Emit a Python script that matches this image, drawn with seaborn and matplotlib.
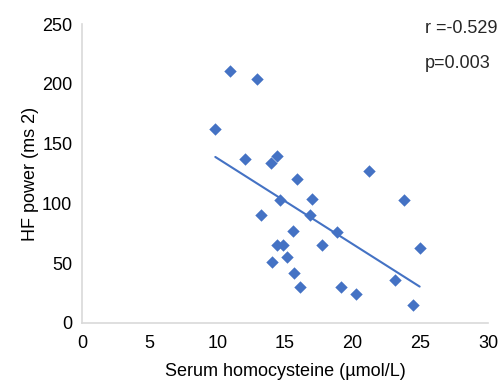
import matplotlib
matplotlib.use("Agg")
import matplotlib.pyplot as plt
import seaborn as sns
import numpy as np
import pandas as pd

homocysteine = [9.85, 10.9, 12.9, 12.05, 13.25, 14.0, 14.4, 14.65, 15.9, 17.0,
                23.8, 16.85, 15.6, 18.85, 14.4, 14.85, 17.7, 24.95, 14.05, 15.15,
                15.7, 16.1, 19.15, 20.25, 23.1, 24.45, 21.2]
hf_power = [162, 211, 204, 137, 90, 134, 140, 103, 120, 104,
            103, 90, 77, 76, 65, 65, 65, 63, 51, 55,
            42, 30, 30, 24, 36, 15, 127]
x_ticks = [0, 5, 10, 15, 20, 25, 30]
y_ticks = [0, 50, 100, 150, 200, 250]
annot = ["r =-0.529", "p=0.003"]

df = pd.DataFrame({"x": homocysteine, "y": hf_power})

sns.set_theme(style="white")
plt.rcParams['font.family'] = ['Liberation Sans', 'DejaVu Sans']

blue = "#4472C4"
fig = plt.figure(figsize=(5.0, 3.83), dpi=100)
ax = fig.add_axes([0.164, 0.157, 0.812, 0.78])

sns.regplot(data=df, x="x", y="y", ax=ax, ci=None, truncate=True,
            marker="D", color=blue,
            scatter_kws=dict(s=40, linewidths=0, alpha=1),
            line_kws=dict(linewidth=1.5, color=blue))

ax.set_xlim(0, 30)
ax.set_ylim(0, 250)
ax.set_xticks(x_ticks)
ax.set_yticks(y_ticks)
ax.tick_params(axis="both", length=0, labelsize=13, colors="#000000")
ax.tick_params(axis="x", pad=9)
ax.tick_params(axis="y", pad=7)
for s in ["top", "right"]:
    ax.spines[s].set_visible(False)
for s in ["left", "bottom"]:
    ax.spines[s].set_color("#d9d9d9")
    ax.spines[s].set_linewidth(1.2)
ax.set_xlabel("Serum homocysteine (µmol/L)", fontsize=13, labelpad=8, color="#000000")
ax.set_ylabel("HF power (ms 2)", fontsize=13, labelpad=2, color="#000000")

fig.text(0.85, 0.925, annot[0], fontsize=13, va="center", ha="left")
fig.text(0.85, 0.835, annot[1], fontsize=13, va="center", ha="left")

fig.savefig("out.png", dpi=100)
